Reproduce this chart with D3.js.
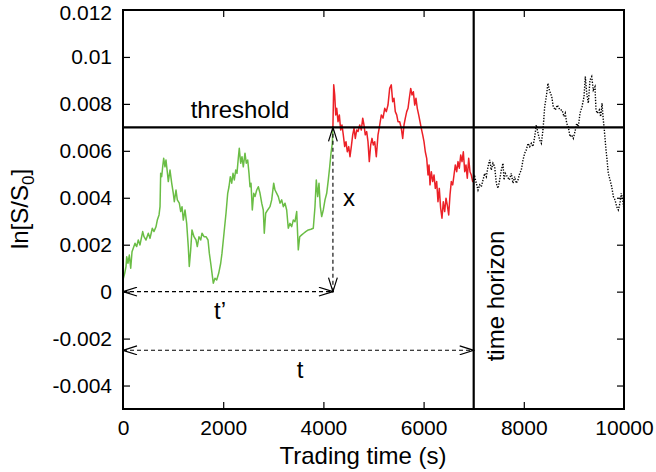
<!DOCTYPE html>
<html>
<head>
<meta charset="utf-8">
<script src="https://cdn.jsdelivr.net/npm/d3@7"></script>
<style>
  html, body { margin: 0; padding: 0; background: #fff; }
  svg { display: block; font-family: "Liberation Sans", Arial, Helvetica, sans-serif; }
</style>
</head>
<body>
<svg id="chart" width="656" height="472"></svg>
<script>
// ---------------- DATA ----------------
const xTicks = [0, 2000, 4000, 6000, 8000, 10000];
const xTickLabels = ["0", "2000", "4000", "6000", "8000", "10000"];
const yTicks = [0.012, 0.01, 0.008, 0.006, 0.004, 0.002, 0, -0.002, -0.004];
const yTickLabels = ["0.012", "0.01", "0.008", "0.006", "0.004", "0.002", "0", "-0.002", "-0.004"];

const threshold = 0.007;
const timeHorizon = 7000;
const crossTime = 4190;
const tArrowLevel = -0.0025;

// green: before hitting the threshold
const greenPath = [
  [0,0.0005],[34,0.00078],[60,0.00107],[74,0.00149],[100,0.00121],[126,0.00156],[154,0.001],[180,0.0017],
  [240,0.00206],[273,0.00192],[305,0.0022],[339,0.00199],[393,0.00256],[419,0.00234],[459,0.0022],[505,0.00249],
  [539,0.00227],[585,0.0027],[619,0.00256],[659,0.00277],[685,0.00305],[719,0.00327],[739,0.00362],[752,0.00504],
  [772,0.0049],[792,0.00532],[812,0.00568],[838,0.00532],[858,0.00561],[884,0.00511],[904,0.00469],[938,0.00518],
  [972,0.00462],[1004,0.00419],[1024,0.00383],[1058,0.00433],[1084,0.00391],[1124,0.00377],[1152,0.00341],[1178,0.00362],
  [1204,0.00305],[1238,0.00348],[1271,0.00291],[1303,0.00192],[1323,0.00107],[1351,0.00178],[1377,0.00263],[1417,0.00234],
  [1457,0.0022],[1483,0.00192],[1517,0.00234],[1551,0.0022],[1577,0.00249],[1617,0.00234],[1657,0.00234],[1697,0.0022],
  [1723,0.00164],[1751,0.00121],[1777,0.00078],[1802,0.00036],[1836,0.00057],[1870,0.0005],[1910,0.00078],[1950,0.00121],
  [1976,0.00164],[2016,0.00249],[2056,0.00334],[2090,0.00419],[2116,0.00447],[2142,0.0049],[2170,0.00462],[2196,0.00504],
  [2222,0.00476],[2250,0.00518],[2275,0.00504],[2301,0.00568],[2321,0.00611],[2349,0.00547],[2375,0.00575],[2401,0.00532],
  [2435,0.0059],[2461,0.00547],[2489,0.00561],[2515,0.00504],[2535,0.00447],[2555,0.00462],[2581,0.00348],[2609,0.00419],
  [2635,0.00405],[2669,0.00433],[2701,0.00447],[2735,0.00419],[2769,0.00377],[2800,0.00348],[2820,0.00249],[2848,0.00334],
  [2888,0.00348],[2934,0.00362],[2968,0.00391],[3008,0.00462],[3034,0.00433],[3068,0.00419],[3100,0.00405],[3134,0.00377],
  [3168,0.00391],[3200,0.00362],[3234,0.00377],[3267,0.00348],[3299,0.0027],[3333,0.00291],[3367,0.00277],[3399,0.00305],
  [3433,0.00298],[3467,0.00341],[3499,0.00178],[3527,0.00234],[3567,0.00242],[3607,0.00249],[3647,0.00256],[3699,0.00263],
  [3752,0.00266],[3798,0.0027],[3832,0.00362],[3858,0.00476],[3886,0.00405],[3912,0.00462],[3938,0.00362],[3966,0.0032],
  [3998,0.00348],[4032,0.00391],[4066,0.00419],[4098,0.00476],[4126,0.00532],[4152,0.0059],[4178,0.00632],[4190,0.007]
];

// red: after the threshold, up to the time horizon
const redPath = [
  [4190,0.007],[4206,0.00881],[4226,0.00838],[4246,0.00753],[4266,0.00781],[4292,0.00724],[4318,0.00753],[4345,0.00689],
  [4371,0.0071],[4397,0.00668],[4425,0.00618],[4451,0.00639],[4477,0.00596],[4505,0.00618],[4531,0.00575],[4557,0.00618],
  [4585,0.00668],[4611,0.00696],[4637,0.00653],[4665,0.00689],[4691,0.00682],[4725,0.0071],[4757,0.00689],[4785,0.00739],
  [4810,0.0071],[4836,0.00668],[4864,0.00682],[4890,0.00639],[4916,0.00554],[4944,0.00625],[4970,0.00653],[4996,0.00625],
  [5024,0.00639],[5056,0.00575],[5090,0.00668],[5124,0.0071],[5156,0.00753],[5190,0.00739],[5224,0.00781],[5256,0.00767],
  [5289,0.00795],[5323,0.00866],[5355,0.00881],[5383,0.00809],[5409,0.00824],[5435,0.00767],[5463,0.00753],[5489,0.00724],
  [5523,0.00724],[5555,0.00696],[5583,0.00653],[5609,0.0071],[5635,0.00739],[5663,0.00767],[5689,0.00781],[5715,0.00824],
  [5743,0.00866],[5768,0.00838],[5795,0.00852],[5823,0.00795],[5848,0.00824],[5874,0.00781],[5902,0.00753],[5928,0.00724],
  [5954,0.00696],[5982,0.00668],[6008,0.00639],[6034,0.00596],[6062,0.00568],[6088,0.00497],[6108,0.0054],[6128,0.00455],
  [6154,0.00511],[6182,0.00469],[6208,0.00497],[6234,0.0044],[6261,0.00469],[6287,0.00383],[6313,0.0044],[6341,0.00355],
  [6367,0.00313],[6393,0.00383],[6421,0.00341],[6447,0.00398],[6473,0.00369],[6501,0.00327],[6527,0.00412],[6553,0.00469],
  [6581,0.00455],[6607,0.00497],[6633,0.0054],[6661,0.00511],[6687,0.00554],[6713,0.00526],[6741,0.00582],[6767,0.00554],
  [6793,0.00596],[6821,0.00511],[6846,0.0054],[6872,0.00483],[6900,0.00568],[6926,0.00511],[6952,0.00497],[6980,0.00469],
  [7000,0.00476]
];

// black dotted: beyond the time horizon
const blackPath = [
  [7000,0.00476],[7020,0.0049],[7052,0.00462],[7086,0.00433],[7120,0.00455],[7152,0.00447],[7186,0.00476],[7220,0.00504],
  [7252,0.0049],[7285,0.00532],[7319,0.00561],[7351,0.00518],[7385,0.00547],[7419,0.00532],[7451,0.00462],[7485,0.0044],
  [7519,0.00476],[7551,0.00518],[7585,0.00547],[7605,0.00476],[7631,0.00504],[7671,0.0049],[7711,0.00476],[7751,0.00504],
  [7784,0.00462],[7818,0.0049],[7850,0.00462],[7884,0.00476],[7918,0.00504],[7950,0.00518],[7984,0.00561],[8018,0.0059],
  [8050,0.00604],[8084,0.00632],[8118,0.00618],[8150,0.00632],[8184,0.00618],[8218,0.0066],[8250,0.0071],[8284,0.00675],
  [8318,0.00646],[8350,0.00632],[8383,0.00689],[8417,0.00788],[8449,0.00831],[8483,0.00888],[8509,0.00859],[8557,0.00831],
  [8589,0.00788],[8629,0.00774],[8669,0.00795],[8723,0.00774],[8763,0.00774],[8802,0.00746],[8828,0.0076],[8856,0.00717],
  [8888,0.00703],[8922,0.0066],[8956,0.00668],[8988,0.00653],[9022,0.00682],[9056,0.00717],[9088,0.00703],[9122,0.0076],
  [9162,0.00788],[9202,0.00831],[9228,0.00916],[9256,0.00845],[9288,0.00803],[9321,0.00902],[9355,0.00916],[9387,0.00859],
  [9421,0.00873],[9441,0.00774],[9467,0.0076],[9507,0.00774],[9535,0.00746],[9561,0.00803],[9587,0.00731],[9607,0.00689],
  [9635,0.00618],[9655,0.00575],[9687,0.00504],[9721,0.00476],[9755,0.00447],[9787,0.00405],[9821,0.00391],[9854,0.00362],
  [9886,0.00348],[9920,0.00377],[9946,0.00419],[9974,0.00391],[10000,0.00348]
];

// ---------------- CHART ----------------
const svg = d3.select("#chart");
const mLeft = 123, mRight = 624, mTop = 10, mBottom = 409;
const x = d3.scaleLinear().domain([0, 10000]).range([mLeft, mRight]);
const y = d3.scaleLinear().domain([-0.005, 0.012]).range([mBottom, mTop]);

const defs = svg.append("defs");
defs.append("marker")
  .attr("id", "arrow")
  .attr("viewBox", "0 0 16 10")
  .attr("refX", 15).attr("refY", 5)
  .attr("markerWidth", 16).attr("markerHeight", 10)
  .attr("markerUnits", "userSpaceOnUse")
  .attr("orient", "auto-start-reverse")
  .append("path")
  .attr("d", "M1,0.6 L15,5 L1,9.4")
  .attr("fill", "none")
  .attr("stroke", "#000")
  .attr("stroke-width", 1.2)
  .attr("stroke-dasharray", "none");

const line = d3.line().x(d => x(d[0])).y(d => y(d[1]));

const plot = svg.append("g");

plot.append("path").datum(greenPath)
  .attr("d", line).attr("fill", "none")
  .attr("stroke", "#6abd45").attr("stroke-width", 1.5).attr("stroke-linejoin", "round");

plot.append("path").datum(redPath)
  .attr("d", line).attr("fill", "none")
  .attr("stroke", "#ec2027").attr("stroke-width", 1.5).attr("stroke-linejoin", "round");

plot.append("path").datum(blackPath)
  .attr("d", line).attr("fill", "none")
  .attr("stroke", "#000").attr("stroke-width", 1.4).attr("stroke-dasharray", "1.3,1.5");

// threshold & time horizon
svg.append("line")
  .attr("x1", x(0)).attr("x2", x(10000))
  .attr("y1", y(threshold)).attr("y2", y(threshold))
  .attr("stroke", "#000").attr("stroke-width", 2.2);
svg.append("line")
  .attr("x1", x(timeHorizon)).attr("x2", x(timeHorizon))
  .attr("y1", y(0.012)).attr("y2", y(-0.005))
  .attr("stroke", "#000").attr("stroke-width", 2.2);

// arrows
function arrow(x1, y1, x2, y2) {
  svg.append("line")
    .attr("x1", x1).attr("y1", y1).attr("x2", x2).attr("y2", y2)
    .attr("stroke", "#000").attr("stroke-width", 1.1)
    .attr("stroke-dasharray", "4,3")
    .attr("marker-start", "url(#arrow)")
    .attr("marker-end", "url(#arrow)");
}
arrow(x(0), y(0), x(crossTime), y(0));
arrow(x(0), y(tArrowLevel), x(timeHorizon), y(tArrowLevel));
arrow(x(crossTime), y(0), x(crossTime), y(threshold));

// axes (ticks inside, mirrored)
const fs = 21;
const axB = svg.append("g").attr("transform", `translate(0,${mBottom})`)
  .call(d3.axisBottom(x).tickValues(xTicks).tickSize(-7).tickPadding(11)
    .tickFormat((d, i) => xTickLabels[i]));
const axT = svg.append("g").attr("transform", `translate(0,${mTop})`)
  .call(d3.axisTop(x).tickValues(xTicks).tickSize(-7).tickFormat(""));
const axL = svg.append("g").attr("transform", `translate(${mLeft},0)`)
  .call(d3.axisLeft(y).tickValues(yTicks).tickSize(-7).tickPadding(11)
    .tickFormat((d, i) => yTickLabels[i]));
const axR = svg.append("g").attr("transform", `translate(${mRight},0)`)
  .call(d3.axisRight(y).tickValues(yTicks).tickSize(-7).tickFormat(""));

[axB, axT, axL, axR].forEach(g => {
  g.select(".domain").remove();
  g.selectAll(".tick line").attr("stroke", "#000").attr("stroke-width", 1.2);
  g.selectAll(".tick text").attr("font-size", fs).attr("fill", "#000")
    .attr("font-family", "'Liberation Sans', Arial, sans-serif");
});
axB.selectAll(".tick").filter(d => d === 0 || d === 10000).select("line").remove();
axT.selectAll(".tick").filter(d => d === 0 || d === 10000).select("line").remove();
axL.selectAll(".tick").filter(d => d === 0.012).select("line").remove();
axR.selectAll(".tick").filter(d => d === 0.012).select("line").remove();
// keep the top label inside the picture
axL.selectAll(".tick").filter(d => d === 0.012).select("text").attr("y", 2.5);

// frame
svg.append("rect")
  .attr("x", mLeft).attr("y", mTop)
  .attr("width", mRight - mLeft).attr("height", mBottom - mTop)
  .attr("fill", "none").attr("stroke", "#000").attr("stroke-width", 2);

// labels
const lf = 24;
svg.append("text").attr("x", 240).attr("y", 118)
  .attr("text-anchor", "middle").attr("font-size", lf).text("threshold");
svg.append("text").attr("x", 349).attr("y", 206)
  .attr("text-anchor", "middle").attr("font-size", lf).text("x");
svg.append("text").attr("x", 220).attr("y", 319)
  .attr("text-anchor", "middle").attr("font-size", lf).text("t\u2019");
svg.append("text").attr("x", 300).attr("y", 378)
  .attr("text-anchor", "middle").attr("font-size", lf).text("t");
svg.append("text")
  .attr("transform", "translate(504,296) rotate(-90)")
  .attr("text-anchor", "middle").attr("font-size", lf).text("time horizon");

svg.append("text").attr("x", 363).attr("y", 464)
  .attr("text-anchor", "middle").attr("font-size", 24).text("Trading time (s)");

const yl = svg.append("text")
  .attr("transform", "translate(28,209) rotate(-90)")
  .attr("text-anchor", "middle").attr("font-size", 24);
yl.append("tspan").text("ln[S/S");
yl.append("tspan").attr("font-size", 17).attr("dy", 6).text("0");
yl.append("tspan").attr("dy", -6).text("]");
</script>
</body>
</html>
